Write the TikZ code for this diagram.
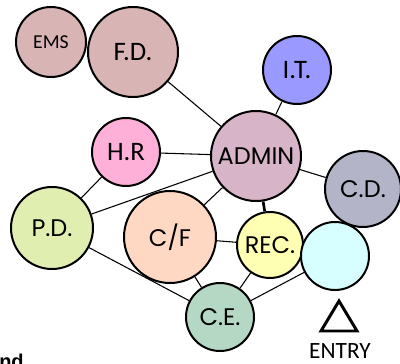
\documentclass[tikz,border=0pt]{standalone}
\usepackage{fontspec}
\setmainfont{Carlito}
\newfontfamily\popfont{Poppins}
\newfontfamily\arialfont{Liberation Sans}
\definecolor{ems}{RGB}{216,180,180}
\definecolor{hr}{RGB}{255,176,216}
\definecolor{it}{RGB}{153,153,255}
\definecolor{admin}{RGB}{216,180,200}
\definecolor{cd}{RGB}{180,180,200}
\definecolor{pd}{RGB}{224,238,176}
\definecolor{cf}{RGB}{255,216,196}
\definecolor{rec}{RGB}{255,255,180}
\definecolor{entry}{RGB}{216,255,255}
\definecolor{ce}{RGB}{180,216,196}

\begin{document}
\begin{tikzpicture}[x=0.75pt, y=-0.75pt,
    dept/.style={circle, draw=black, line width=1.5pt, inner sep=0pt},
    small/.style={font=\fontsize{14.8}{16}\selectfont},
    big/.style={font=\fontsize{20}{22}\selectfont},
    geo/.style={font=\popfont\fontsize{18}{20}\selectfont},
    link/.style={line width=0.8pt}]

    \useasboundingbox (0,0) rectangle (400,364);

    \node[dept, small, fill=ems, minimum size=52.5pt] (EMS) at (51,42) {EMS};
    \node[dept, big, fill=ems, minimum size=67.5pt] (FD) at (133,52) {F.D.};
    \node[dept, big, fill=hr, minimum size=51pt] (HR) at (126,152) {H.R};
    \node[dept, big, fill=it, minimum size=51pt] (IT) at (297,70) {I.T.};
    \node[dept, geo, fill=admin, minimum size=67.5pt] (ADMIN) at (256,156) {ADMIN};
    \node[dept, geo, fill=cd, minimum size=57pt] (CD) at (363,189) {C.D.};
    \node[dept, geo, fill=pd, minimum size=61.5pt] (PD) at (52,228) {P.D.};
    \node[dept, geo, fill=cf, minimum size=69pt] (CF) at (170,237) {C/F};
    \node[dept, geo, fill=rec, minimum size=49.5pt] (REC) at (270,245) {REC.};
    \node[dept, fill=entry, minimum size=51pt] (ENT) at (335,256) {};
    \node[dept, geo, fill=ce, minimum size=51pt] (CE) at (220,317) {C.E.};

    \foreach \a/\b in {FD/ADMIN, IT/ADMIN, HR/ADMIN, HR/PD, PD/ADMIN, PD/CE,
                       ADMIN/CD, ADMIN/CF, CF/REC, CF/CE, REC/CE, CE/ENT}
        \draw[link] (\a) -- (\b);

    \draw[line width=2pt] (ADMIN) -- (REC);

    % entry marker
    \draw[line width=2.2pt, line join=miter] (321,331) -- (339,301) -- (357,331) -- cycle;
    \node[font=\fontsize{17.5}{19}\selectfont, inner sep=0pt] (entrylabel) at (340,351) {ENTRY};

    \node[anchor=base west, inner sep=0pt, font=\arialfont\bfseries\fontsize{15}{17}\selectfont] (legend) at (-1,368) {nd};

\end{tikzpicture}
\end{document}
